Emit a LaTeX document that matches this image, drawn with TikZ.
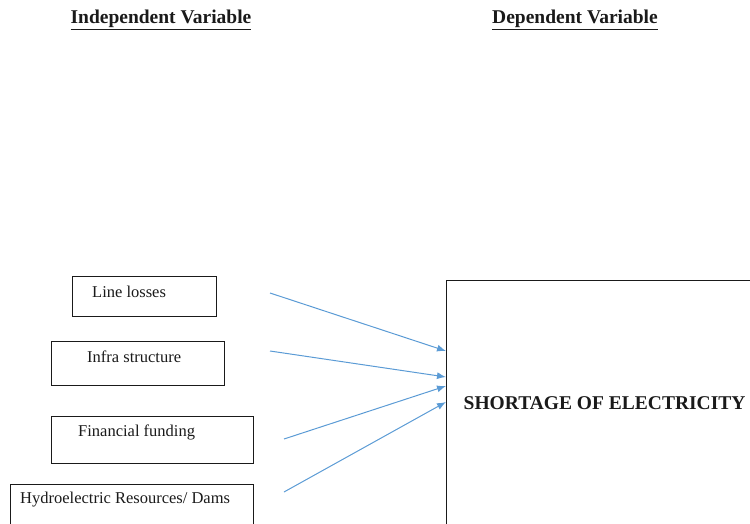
\documentclass[tikz,border=0pt]{standalone}
\usepackage{fontspec}
\setmainfont{Liberation Serif}
\usepackage{tikz}
\usetikzlibrary{arrows.meta,positioning}
\definecolor{edge}{HTML}{5B9BD5}
\definecolor{ink}{HTML}{1A1A1A}
\tikzset{
  box/.style={draw=ink, line width=1.2pt, rectangle, inner sep=0pt, anchor=north west},
  lab/.style={text=ink, inner sep=0pt, anchor=west, font=\fontsize{16.5}{18}\selectfont},
  head/.style={text=ink, inner sep=0pt, font=\fontsize{19.5}{22}\selectfont\bfseries},
  arr/.style={draw=edge, line width=1pt, -{Latex[length=9pt,width=7pt]}},
}
\begin{document}
\begin{tikzpicture}[x=1pt,y=-1pt]
  \useasboundingbox (0,0) rectangle (750,523);
  \clip (0,0) rectangle (750,523);

  % headings
  \node[head] (indep) at (161,20) {\underline{Independent Variable}};
  \node[head] (dep) at (575,20) {\underline{Dependent Variable}};

  % independent variables
  \node[box, minimum width=144pt, minimum height=40pt] (loss) at (72,276) {};
  \node[box, minimum width=173pt, minimum height=44pt] (infra) at (51,341) {};
  \node[box, minimum width=202pt, minimum height=47pt] (fund) at (51,416) {};
  \node[box, minimum width=243pt, minimum height=47pt] (dams) at (10,484) {};
  \node[lab] (lossl) at (92,292) {Line losses};
  \node[lab] (infral) at (87,357) {Infra structure};
  \node[lab] (fundl) at (78,432) {Financial funding};
  \node[lab] (damsl) at (20,500) {Hydroelectric Resources/ Dams};

  % dependent variable
  \node[box, minimum width=316pt, minimum height=246pt, head] (short) at (446,280) {SHORTAGE OF ELECTRICITY};

  % arrows
  \coordinate (s1) at (270,293);
  \coordinate (s2) at (270,351);
  \coordinate (s3) at (284,439);
  \coordinate (s4) at (284,492);
  \coordinate (e1) at (446,351);
  \coordinate (e2) at (446,377);
  \coordinate (e3) at (446,386);
  \coordinate (e4) at (446,402);
  \draw[arr] (s1) -- (e1);
  \draw[arr] (s2) -- (e2);
  \draw[arr] (s3) -- (e3);
  \draw[arr] (s4) -- (e4);
\end{tikzpicture}
\end{document}
